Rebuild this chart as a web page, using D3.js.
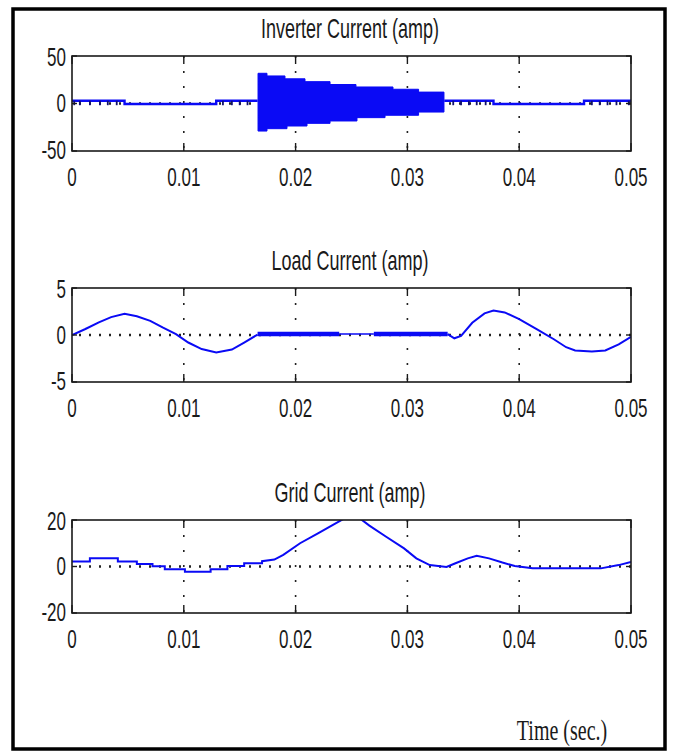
<!DOCTYPE html>
<html>
<head>
<meta charset="utf-8">
<script src="https://cdn.jsdelivr.net/npm/d3@7"></script>
<style>
  html, body { margin: 0; padding: 0; background: #fff; }
  svg { display: block; }
</style>
</head>
<body>
<svg id="chart" width="673" height="752"></svg>
<script>
// ---------------- DATA ----------------
const xTicks = [0, 0.01, 0.02, 0.03, 0.04, 0.05];
const xTickLabels = ["0", "0.01", "0.02", "0.03", "0.04", "0.05"];
const xDomain = [0, 0.05];

const titles = ["Inverter Current (amp)", "Load Current (amp)", "Grid Current (amp)"];
const yDomains = [[-50, 50], [-5, 5], [-20, 20]];
const yTicks = [[-50, 0, 50], [-5, 0, 5], [-20, 0, 20]];
const yTickLabels = [["-50", "0", "50"], ["-5", "0", "5"], ["-20", "0", "20"]];
const xAxisTitle = "Time (sec.)";

// Inverter current: baseline before and after the burst
const invPreT = [0, 0.0047, 0.0047, 0.0129, 0.0129, 0.0166];
const invPreV = [2.9, 2.9, -0.5, -0.5, 2.9, 2.9];
const invPostT = [0.0333, 0.0377, 0.0377, 0.0458, 0.0458, 0.05];
const invPostV = [2.9, 2.9, -0.5, -0.5, 2.9, 2.9];
// small switching spikes on the ripple sections
const invSpikeT = [0.0002, 0.0007, 0.0016, 0.0025, 0.0032, 0.0040,
                   0.0135, 0.0143, 0.0150, 0.0157,
                   0.0341, 0.0348, 0.0355, 0.0362, 0.0370,
                   0.0465, 0.0472, 0.0479, 0.0487, 0.0498];
const invSpikeTop = [2.9];
const invSpikeLow = [-1.8];
// high-frequency burst envelope (step edges, value holds until next edge)
const invTopT = [0.01664, 0.01744, 0.01905, 0.02084, 0.02308, 0.02540, 0.02871, 0.03100, 0.03327];
const invTopV = [31.8, 29.0, 26.0, 23.0, 20.0, 17.4, 15.0, 12.0];
const invBotT = [0.01664, 0.01744, 0.01923, 0.02102, 0.02308, 0.02549, 0.02800, 0.03100, 0.03327];
const invBotV = [-29.0, -26.5, -23.7, -20.9, -18.4, -14.9, -12.4, -9.0];

// Load current
const loadAT = [0, 0.0012, 0.0024, 0.0035, 0.0047, 0.0058, 0.0070, 0.0081, 0.0093,
                0.0104, 0.0116, 0.0129, 0.0143, 0.0154, 0.0166];
const loadAV = [0, 0.64, 1.35, 1.9, 2.25, 2.0, 1.5, 0.8, 0.1,
                -0.8, -1.5, -1.85, -1.55, -0.8, 0.05];
const loadThickT = [[0.0166, 0.0239], [0.0270, 0.0336]];
const loadThinT = [0.0239, 0.0270];
const loadFlatV = [0.1];
const loadBT = [0.0336, 0.0342, 0.0348, 0.0358, 0.0369, 0.0377, 0.0387, 0.0400, 0.0416,
                0.0431, 0.0442, 0.0450, 0.0465, 0.0477, 0.0489, 0.0500];
const loadBV = [0.1, -0.35, -0.1, 1.3, 2.3, 2.6, 2.4, 1.7, 0.6,
                -0.45, -1.3, -1.65, -1.75, -1.65, -1.0, -0.2];

// Grid current
const gridT = [0, 0.0016, 0.0016, 0.0041, 0.0041, 0.0058, 0.0058, 0.0072, 0.0072, 0.0083,
               0.0083, 0.0101, 0.0101, 0.0124, 0.0124, 0.0139, 0.0139, 0.0154, 0.0154, 0.0170,
               0.0170, 0.0181, 0.0189, 0.0204, 0.0220, 0.0235, 0.0243, 0.0258, 0.0266, 0.0281,
               0.0297, 0.0308, 0.0320, 0.0335, 0.0343, 0.0354, 0.0362, 0.0373, 0.0385, 0.0396,
               0.0412, 0.0473, 0.0489, 0.0500];
const gridV = [2.1, 2.1, 3.6, 3.6, 2.1, 2.1, 1.1, 1.1, 0.1, 0.1,
               -1.2, -1.2, -2.3, -2.3, -1.2, -1.2, 0.2, 0.2, 1.4, 1.4,
               2.3, 3.0, 5.0, 10.0, 14.3, 18.3, 20.5, 20.5, 17.6, 12.8,
               7.8, 3.5, 0.6, -0.2, 1.4, 3.5, 4.6, 3.5, 1.7, 0.2,
               -0.8, -0.8, 0.6, 2.0];

// ---------------- LAYOUT ----------------
const svg = d3.select("#chart");
const W = 673, H = 752;
const left = 72, right = 631;
const panelTop = [56, 288, 520];
const panelBottom = [151, 382, 613];
const BLUE = "#0a0af5";
const TXT = "#1a1a1a";

svg.append("rect").attr("width", W).attr("height", H).attr("fill", "#fff");

// outer frame
svg.append("rect")
  .attr("x", 13).attr("y", 9).attr("width", 652).attr("height", 740)
  .attr("fill", "none").attr("stroke", "#000").attr("stroke-width", 3.5);

const x = d3.scaleLinear().domain(xDomain).range([left, right]);

function label(g, px, py, text, anchor, size, family) {
  return g.append("text")
    .attr("transform", `translate(${px},${py}) scale(1,1.5)`)
    .attr("text-anchor", anchor)
    .attr("dominant-baseline", "central")
    .attr("font-family", family || "'Liberation Sans', Arial, sans-serif")
    .attr("font-size", size)
    .attr("fill", TXT)
    .text(text);
}

const panels = [];
for (let i = 0; i < 3; i++) {
  const y = d3.scaleLinear().domain(yDomains[i]).range([panelBottom[i], panelTop[i]]);
  const g = svg.append("g");
  const clipId = "clip" + i;
  svg.append("clipPath").attr("id", clipId)
    .append("rect").attr("x", left).attr("y", panelTop[i])
    .attr("width", right - left).attr("height", panelBottom[i] - panelTop[i]);

  // grid: vertical dotted lines at inner x ticks
  xTicks.slice(1, -1).forEach(t => {
    g.append("line")
      .attr("x1", x(t)).attr("x2", x(t))
      .attr("y1", panelTop[i]).attr("y2", panelBottom[i])
      .attr("stroke", "#222").attr("stroke-width", 1.6)
      .attr("stroke-dasharray", "2,13");
  });
  // horizontal dotted zero line
  g.append("line")
    .attr("x1", left).attr("x2", right)
    .attr("y1", y(0)).attr("y2", y(0))
    .attr("stroke", "#222").attr("stroke-width", 2.4)
    .attr("stroke-dasharray", "2,8").attr("stroke-dashoffset", -7);

  const data = g.append("g").attr("clip-path", `url(#${clipId})`);
  panels.push({ g, y, data });

  // axes box
  g.append("rect")
    .attr("x", left).attr("y", panelTop[i])
    .attr("width", right - left).attr("height", panelBottom[i] - panelTop[i])
    .attr("fill", "none").attr("stroke", "#1a1a1a").attr("stroke-width", 1.6);

  // inward ticks
  xTicks.forEach(t => {
    g.append("line").attr("x1", x(t)).attr("x2", x(t))
      .attr("y1", panelBottom[i]).attr("y2", panelBottom[i] - 8)
      .attr("stroke", "#1a1a1a").attr("stroke-width", 1.4);
    g.append("line").attr("x1", x(t)).attr("x2", x(t))
      .attr("y1", panelTop[i]).attr("y2", panelTop[i] + 8)
      .attr("stroke", "#1a1a1a").attr("stroke-width", 1.4);
  });
  yTicks[i].forEach(v => {
    g.append("line").attr("x1", left).attr("x2", left + 5)
      .attr("y1", y(v)).attr("y2", y(v))
      .attr("stroke", "#1a1a1a").attr("stroke-width", 1.4);
    g.append("line").attr("x1", right).attr("x2", right - 5)
      .attr("y1", y(v)).attr("y2", y(v))
      .attr("stroke", "#1a1a1a").attr("stroke-width", 1.4);
  });

  // tick labels
  xTicks.forEach((t, k) => {
    label(g, x(t), panelBottom[i] + 26, xTickLabels[k], "middle", 17);
  });
  yTicks[i].forEach((v, k) => {
    label(g, 66, y(v) + (v === yDomains[i][0] ? -1 : (v === yDomains[i][1] ? 1 : 0)),
          yTickLabels[i][k], "end", 17);
  });

  // title
  label(g, 350, panelTop[i] - 27, titles[i], "middle", 18);
}

// x axis title
label(svg, 562, 730, xAxisTitle, "middle", 20, "'Liberation Serif', 'Times New Roman', serif");

// ---------------- DATA MARKS ----------------
const zip = (T, V) => T.map((t, k) => [t, V[k]]);

// Panel 1: inverter current
{
  const { y, data } = panels[0];
  const line = d3.line().x(d => x(d[0])).y(d => y(d[1]));
  // burst polygon from step envelopes
  const pts = [];
  invTopV.forEach((v, k) => { pts.push([invTopT[k], v]); pts.push([invTopT[k + 1], v]); });
  for (let k = invBotV.length - 1; k >= 0; k--) {
    pts.push([invBotT[k + 1], invBotV[k]]); pts.push([invBotT[k], invBotV[k]]);
  }
  data.append("path")
    .attr("d", line(pts) + "Z")
    .attr("fill", BLUE).attr("stroke", BLUE).attr("stroke-width", 1);

  [zip(invPreT, invPreV), zip(invPostT, invPostV)].forEach(seg => {
    data.append("path").attr("d", line(seg))
      .attr("fill", "none").attr("stroke", BLUE).attr("stroke-width", 2.4);
  });
  invSpikeT.forEach(t => {
    data.append("line")
      .attr("x1", x(t)).attr("x2", x(t))
      .attr("y1", y(invSpikeTop[0])).attr("y2", y(invSpikeLow[0]))
      .attr("stroke", "#101070").attr("stroke-width", 1.8);
  });
}

// Panel 2: load current
{
  const { y, data } = panels[1];
  const line = d3.line().x(d => x(d[0])).y(d => y(d[1]));
  data.append("path").attr("d", line(zip(loadAT, loadAV)))
    .attr("fill", "none").attr("stroke", BLUE).attr("stroke-width", 2);
  loadThickT.forEach(r => {
    data.append("path").attr("d", line([[r[0], loadFlatV[0]], [r[1], loadFlatV[0]]]))
      .attr("fill", "none").attr("stroke", BLUE).attr("stroke-width", 4.5);
  });
  data.append("path").attr("d", line([[loadThinT[0], loadFlatV[0]], [loadThinT[1], loadFlatV[0]]]))
    .attr("fill", "none").attr("stroke", BLUE).attr("stroke-width", 1.6);
  data.append("path").attr("d", line(zip(loadBT, loadBV)))
    .attr("fill", "none").attr("stroke", BLUE).attr("stroke-width", 2);
}

// Panel 3: grid current
{
  const { y, data } = panels[2];
  const line = d3.line().x(d => x(d[0])).y(d => y(d[1]));
  data.append("path").attr("d", line(zip(gridT, gridV)))
    .attr("fill", "none").attr("stroke", BLUE).attr("stroke-width", 2);
}
</script>
</body>
</html>
